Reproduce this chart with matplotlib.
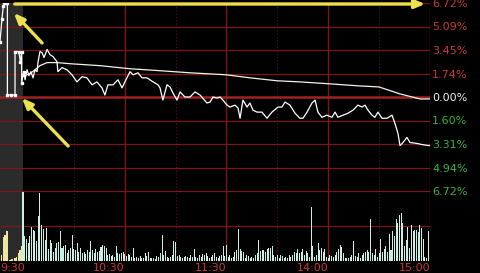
import matplotlib
matplotlib.use("Agg")
import matplotlib.pyplot as plt
import numpy as np

# ---------------- data ----------------
# intraday price (minutes after 9:30, % change)
time_min = [0.6, 1.2, 2.4, 3.5, 4.7, 5.9, 7.1, 8.3, 8.8, 10.0, 11.2, 12.4, 14.2, 15.9, 17.7, 20.0, 20.6,
            23.0, 25.9, 28.9, 31.8, 34.8, 37.7, 40.7, 43.6, 46.6, 48.3, 50.1, 53.1, 56.0, 58.4, 60.1,
            63.1, 64.9, 67.8, 70.2, 73.1, 76.7, 79.6, 80.8, 82.5, 84.9, 86.7, 88.4, 90.8, 92.6, 95.5,
            98.5, 101.4, 104.4, 108.5, 110.3, 112.0, 114.4, 116.2, 117.9, 120.3, 122.1, 125.0, 126.8,
            128.0, 129.7, 132.1, 133.8, 135.6, 138.0, 140.9, 143.9, 146.8, 150.4, 152.7, 154.5, 157.4,
            160.4, 163.3, 165.1, 167.5, 170.4, 172.2, 173.9, 176.3, 179.2, 182.2, 184.0, 185.7, 188.7,
            191.6, 194.6, 197.5, 199.9, 201.7, 203.4, 205.8, 207.5, 209.3, 211.7, 214.6, 217.6, 219.3,
            221.1, 222.3, 224.1, 226.4, 228.2, 232.3, 235.3, 238.8, 240.0]
price_pct = [1.81, 1.23, 1.95, 1.52, 1.81, 1.37, 1.95, 1.81, 2.46, 3.25, 3.18, 2.82, 3.40, 3.03, 2.89, 2.53, 1.81,
             2.10, 1.95, 1.59, 1.08, 1.45, 1.37, 0.87, 1.08, 0.65, 0.14, 0.87, 0.87, 1.23, 0.65, 1.08,
             1.81, 1.59, 1.73, 1.37, 1.37, 1.08, 0.87, 0.65, -0.22, 0.87, 0.72, 0.29, -0.22, 0.36, 0.00,
             0.00, 0.36, 0.14, -0.43, -0.36, 0.00, -0.07, 0.00, -0.22, -0.58, -0.72, -0.58, -0.79,
             -1.52, -0.22, -0.72, -0.43, -0.94, -1.08, -1.08, -1.52, -1.08, -0.72, -0.72, -0.36, -0.58,
             -1.16, -1.52, -1.52, -1.08, -0.43, -0.22, -1.08, -1.45, -1.30, -1.45, -1.08, -1.45, -1.30,
             -1.16, -0.94, -0.58, -0.72, -0.58, -0.94, -1.30, -1.45, -1.08, -1.52, -1.52, -1.30, -1.88,
             -2.60, -3.47, -3.25, -2.89, -3.25, -3.32, -3.40, -3.47, -3.47]

# average price line
avg_time = [0.6, 4.1, 7.1, 10.0, 14.2, 20.0, 27.7, 45.4, 63.1, 80.8, 98.5, 119.7, 133.8, 149.8,
            163.3, 181.0, 198.7, 209.9, 222.3, 234.1, 240.0]
avg_pct = [1.52, 1.66, 1.95, 2.24, 2.46, 2.46, 2.38, 2.24, 2.02, 1.88, 1.73, 1.59, 1.37, 1.16,
           1.08, 0.94, 0.79, 0.72, 0.22, -0.14, -0.14]

# pre-market auction trace (minutes before 9:30)
pre_time = [-13.6, -12.4, -11.6, -11.0, -10.0, -9.2, -9.2, -7.0, -4.7, -4.7, -2.5, -1.5, -0.8, -0.8, 0.0, 0.6]
pre_pct = [3.90, 5.60, 6.50, 6.72, 6.72, 6.72, 0.14, 0.14, 0.14, 3.25, 3.25, 2.50, 3.25, 1.00, 1.60, 1.81]

# volume per minute (240 minutes)
volume = [203, 73, 65, 53, 73, 101, 93, 88, 58, 133, 201, 105, 95, 63, 98, 35, 63, 53, 28, 38,
          53, 55, 88, 38, 43, 48, 23, 33, 38, 78, 35, 33, 53, 28, 38, 25, 28, 21, 33, 28,
          58, 33, 25, 35, 28, 31, 41, 48, 45, 38, 18, 21, 15, 18, 13, 43, 23,
          20, 25, 28, 20, 16, 20, 18, 13,
          38, 10, 13, 8, 15, 8, 10, 23, 15, 28, 10, 8, 10, 6, 15, 13, 23, 76, 18, 30,
          13, 8, 13, 18, 58, 56, 15, 18, 13, 8, 13, 15, 13, 8, 18, 13, 36, 13, 10, 18,
          13, 20, 18, 23, 15, 8, 13, 18, 23, 13, 8, 15, 18, 43, 15, 48, 13, 18, 8, 13,
          28, 33, 96, 35, 30, 28, 8, 18, 15, 8, 13, 8, 18, 23, 61, 31, 33, 33, 28, 35,
          38, 38, 43, 18, 13, 18, 10, 18, 15, 8, 13, 10, 18, 13, 18, 28, 23, 35, 23, 28,
          35, 18, 30, 23, 13, 161, 45, 13, 18, 53, 33, 38, 28, 35, 13, 8, 18, 15, 13,
          18, 28, 35, 48, 41, 23, 8, 10, 8, 13, 18, 58, 15, 13, 25, 8, 18, 23, 28, 33,
          28, 125, 25, 18, 35, 13, 23, 65, 28, 35, 43, 28, 80, 33, 88, 75, 125, 113, 135, 141,
          113, 43, 63, 101, 38, 105, 88, 93, 93, 85, 105, 98, 65, 13, 8, 88]
pre_vol_time = [-12.6, -11.6, -10.6, -9.4, -7.7, -6.5, -4.7, -3.7, -2.7, -1.8, -0.8]
pre_vol = [18, 70, 78, 88, 3, 5, 8, 13, 23, 33, 43]

pct_ticks = [6.72, 5.04, 3.36, 1.68, 0.0, -1.68, -3.36, -5.04, -6.72]
pct_labels = ['6.72%', '5.09%', '3.45%', '1.74%', '0.00%', '1.60%', '3.31%', '4.94%', '6.72%']
time_ticks = [0, 60, 120, 180, 240]
time_labels = ['9:30', '10:30', '11:30', '14:00', '15:00']

# ---------------- figure ----------------
W, H = 481, 273
fig = plt.figure(figsize=(W / 100, H / 100), dpi=100, facecolor='black')

x_left, x_right = -13.56, 240.0
ax_w = 430 / W

ax = fig.add_axes([0, 1 - 191 / H, ax_w, 188 / H])
axv = fig.add_axes([0, 1 - 261 / H, ax_w, 70 / H])

grid_c = '#7e1616'
lab_red = '#c83a3a'
for a in (ax, axv):
    a.set_facecolor('black')
    a.set_xlim(x_left, x_right)
    for s in a.spines.values():
        s.set_visible(False)
    a.axvspan(x_left, 0, color='#2b2b2b', zorder=0, lw=0)
    for t in (60, 120, 180, 240):
        a.axvline(t, color=grid_c, lw=1.0, zorder=1)
    for t in (30, 90, 150, 210):
        a.axvline(t, color='#5a1414', lw=0.8, ls=(0, (1, 2)), zorder=1)

# price panel
ax.set_ylim(-6.72, 6.72)
for v in pct_ticks:
    if v == 0:
        ax.axhline(v, color='#a02222', lw=1.8, zorder=1)
    else:
        ax.axhline(v, color=grid_c, lw=0.9, zorder=1)
ax.plot(avg_time, avg_pct, color='#f2f2e6', lw=0.9, zorder=3)
ax.plot(time_min, price_pct, color='white', lw=0.9, zorder=4)
ax.plot(pre_time, pre_pct, color='white', lw=0.9, marker='s', ms=1.6, zorder=4)
ax.set_xticks([])
ax.set_yticks(pct_ticks)
ax.set_yticklabels(pct_labels)
ax.tick_params(axis='y', left=False, right=False, labelleft=False, labelright=True,
               length=0, pad=1.5, labelsize=8)
for lab, v in zip(ax.get_yticklabels(), pct_ticks):
    lab.set_color(lab_red if v > 0 else ('#f0f0f0' if v == 0 else '#3cb43c'))

# volume panel
vmax = 207
axv.set_ylim(0, vmax)
axv.axhline(vmax / 2, color=grid_c, lw=0.9, zorder=1)
axv.axhline(vmax, color=grid_c, lw=0.9, zorder=1)
axv.bar(np.arange(len(volume)), volume, width=0.6, color='#c8f0e6', lw=0, zorder=3)
axv.bar(pre_vol_time, pre_vol, width=0.8, color='#ece6a0', lw=0, zorder=3)
axv.set_yticks([])
axv.set_xticks(time_ticks[1:])
axv.set_xticklabels(time_labels[1:], ha='right')
axv.tick_params(axis='x', length=0, pad=1.2, labelsize=8, colors=lab_red)
# the first label starts at the left edge of the picture
axv.annotate(time_labels[0], xy=(x_left, 0), xycoords=axv.get_xaxis_transform(),
             xytext=(0.3, -1.2), textcoords='offset points', ha='left', va='top',
             fontsize=8, color=lab_red, annotation_clip=False)

# annotation arrows (overlay in pixel coordinates)
ov = fig.add_axes([0, 0, 1, 1])
ov.set_xlim(0, W)
ov.set_ylim(H, 0)
ov.axis('off')
ov.patch.set_alpha(0)
yel = '#ece050'
ov.annotate('', xy=(428, 4), xytext=(12, 4),
            arrowprops=dict(arrowstyle='-|>,head_length=0.6,head_width=0.25', color=yel, lw=2.4))
ov.annotate('', xy=(12, 11), xytext=(44, 45),
            arrowprops=dict(arrowstyle='-|>,head_length=0.6,head_width=0.25', color=yel, lw=2.4))
ov.annotate('', xy=(20, 96), xytext=(70, 148),
            arrowprops=dict(arrowstyle='-|>,head_length=0.6,head_width=0.25', color=yel, lw=2.4))

fig.savefig('out.png', dpi=100, facecolor='black')
